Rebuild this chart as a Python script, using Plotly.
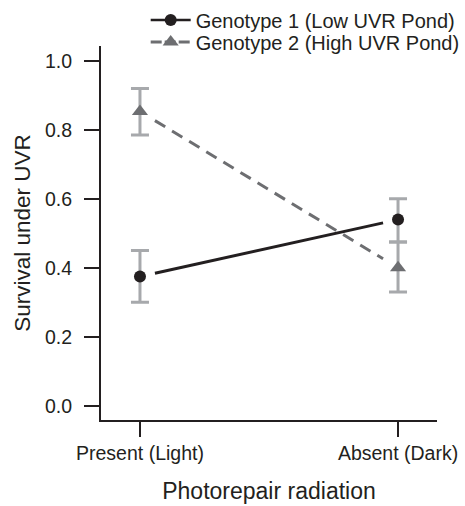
import plotly.graph_objects as go

categories = ["Present (Light)", "Absent (Dark)"]
g1_mean = [0.375, 0.54]
g1_upper = [0.45, 0.60]
g1_lower = [0.30, 0.475]
g2_mean = [0.853, 0.40]
g2_upper = [0.92, 0.475]
g2_lower = [0.785, 0.33]
series_names = ["Genotype 1 (Low UVR Pond)", "Genotype 2 (High UVR Pond)"]
y_ticks = [0.0, 0.2, 0.4, 0.6, 0.8, 1.0]

xpos = list(range(len(categories)))
FONT = "Liberation Sans, Arial, sans-serif"
C1 = "#231f20"
C2 = "#6d6e71"
EB = "#a7a9ac"

fig = go.Figure()


def shortened(xs, ys, f=0.058):
    x0, x1 = xs
    y0, y1 = ys
    return ([x0 + f * (x1 - x0), x1 - f * (x1 - x0)],
            [y0 + f * (y1 - y0), y1 - f * (y1 - y0)])


specs = [
    (g1_mean, g1_upper, g1_lower, C1, "circle", "solid", series_names[0], 12, "legend"),
    (g2_mean, g2_upper, g2_lower, C2, "triangle-up", "12px,8px", series_names[1], 14, "legend2"),
]
for means, up, lo, color, symbol, dash, name, msize, leg in specs:
    lx, ly = shortened(xpos, means)
    fig.add_trace(go.Scatter(x=lx, y=ly, mode="lines",
                             line=dict(color=color, width=3, dash=dash),
                             showlegend=False, hoverinfo="skip"))
    fig.add_trace(go.Scatter(
        x=xpos, y=means, mode="markers",
        marker=dict(color=color, symbol=symbol, size=msize),
        error_y=dict(type="data", symmetric=False,
                     array=[u - m for u, m in zip(up, means)],
                     arrayminus=[m - l for m, l in zip(means, lo)],
                     color=EB, thickness=3, width=9),
        showlegend=False))
    fig.add_trace(go.Scatter(x=[None], y=[None], mode="lines+markers", name=name,
                             legend=leg,
                             marker=dict(color=color, symbol=symbol, size=msize),
                             line=dict(color=color, width=2.5 if dash == "solid" else 3,
                                       dash="solid" if dash == "solid" else "11px,3px")))

legend_common = dict(xanchor="left", yanchor="middle", itemwidth=40,
                     font=dict(size=20, family=FONT, color="#231f20"),
                     bgcolor="rgba(0,0,0,0)", borderwidth=0)

fig.update_layout(
    width=465, height=506,
    margin=dict(l=101, r=28, t=46, b=86, autoexpand=False),
    plot_bgcolor="white", paper_bgcolor="white",
    font=dict(family=FONT, size=16, color="#231f20"),
    legend=dict(x=0.133, y=1 + (46 - 20) / 374, **legend_common),
    legend2=dict(x=0.133, y=1 + (46 - 42) / 374, **legend_common),
    xaxis=dict(range=[-0.151, 1.151], tickmode="array", tickvals=xpos,
               ticktext=categories, showgrid=False, zeroline=False,
               showline=True, linecolor="#231f20", linewidth=2,
               ticks="outside", ticklen=15, tickwidth=1.5, tickcolor="#231f20",
               tickfont=dict(size=19.5),
               title=dict(text="Photorepair radiation", font=dict(size=23), standoff=19)),
    yaxis=dict(range=[-0.041, 1.043], tickmode="array", tickvals=y_ticks,
               ticktext=[f"{v:.1f}" for v in y_ticks], showgrid=False, zeroline=False,
               showline=True, linecolor="#231f20", linewidth=2,
               ticks="outside", ticklen=15, tickwidth=1.5, tickcolor="#231f20",
               tickfont=dict(size=19.5), ticklabelstandoff=8,
               title=dict(text="Survival under UVR", font=dict(size=22.5), standoff=8)),
)

fig.write_html("out.html")
